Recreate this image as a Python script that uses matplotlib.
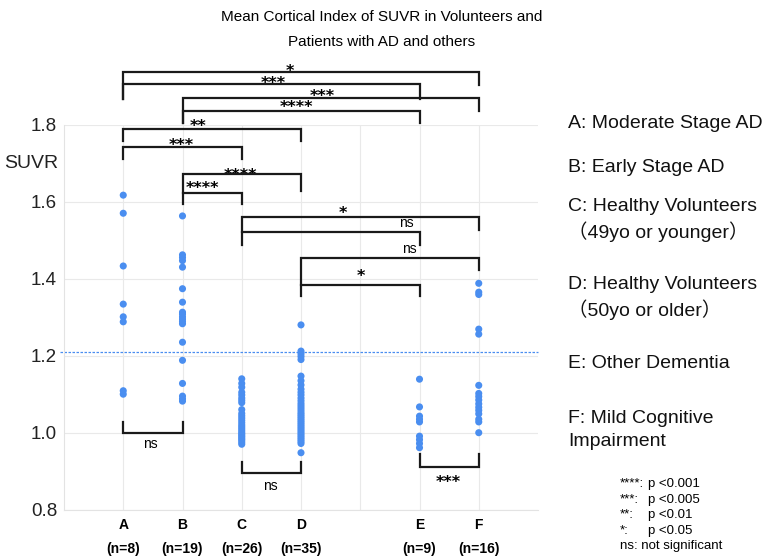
import numpy as np
import matplotlib.pyplot as plt

plt.rcParams['font.family'] = ['Liberation Sans', 'Noto Sans CJK JP', 'DejaVu Sans']

# groups (blank slot between D and E)
categories = ['A', 'B', 'C', 'D', '', 'E', 'F']

suvr_a = [1.617, 1.570, 1.433, 1.334, 1.301, 1.288, 1.109, 1.100]
suvr_b = [1.563, 1.462, 1.455, 1.447, 1.430, 1.374, 1.339, 1.313, 1.308, 1.301,
          1.295, 1.289, 1.283, 1.235, 1.188, 1.128, 1.095, 1.088, 1.082]
suvr_c = [1.140, 1.128, 1.118, 1.105, 1.098, 1.090, 1.084, 1.078, 1.060, 1.050,
          1.044, 1.038, 1.032, 1.026, 1.020, 1.015, 1.010, 1.005, 1.000, 0.996,
          0.992, 0.988, 0.984, 0.980, 0.975, 0.970]
suvr_d = [1.280, 1.212, 1.205, 1.198, 1.190, 1.147, 1.135, 1.124, 1.113, 1.105,
          1.098, 1.090, 1.083, 1.076, 1.070, 1.064, 1.058, 1.052, 1.047, 1.042,
          1.037, 1.032, 1.027, 1.022, 1.017, 1.012, 1.007, 1.002, 0.997, 0.992,
          0.987, 0.982, 0.977, 0.972, 0.948]
suvr_e = [1.139, 1.067, 1.043, 1.035, 1.028, 0.991, 0.982, 0.972, 0.961]
suvr_f = [1.388, 1.365, 1.359, 1.269, 1.256, 1.123, 1.102, 1.094, 1.085, 1.075,
          1.066, 1.058, 1.049, 1.035, 1.028, 1.000]

cutoff = 1.21

group_names = ['A: Moderate Stage AD', 'B: Early Stage AD',
               'C: Healthy Volunteers\n（49yo or younger）',
               'D: Healthy Volunteers\n（50yo or older）',
               'E: Other Dementia', 'F: Mild Cognitive\nImpairment']

sig_keys = ['****:', '***:', '**:', '*:', 'ns: not significant']
sig_vals = ['p <0.001', 'p <0.005', 'p <0.01', 'p <0.05', '']

# comparisons: left, right, bar y, left leg end, right leg end, label, label x, label y
brackets = [
    ('A', 'F', 1.936, 1.866, 1.903, '*', 3.82, 1.951),
    ('A', 'E', 1.905, 1.866, 1.866, '***', 3.54, 1.920),
    ('B', 'F', 1.870, 1.805, 1.836, '***', 4.36, 1.886),
    ('B', 'E', 1.836, 1.805, 1.805, '****', 3.92, 1.856),
    ('A', 'D', 1.790, 1.758, 1.758, '**', 2.27, 1.808),
    ('A', 'C', 1.741, 1.710, 1.710, '***', 1.98, 1.758),
    ('B', 'D', 1.672, 1.623, 1.629, '****', 2.98, 1.681),
    ('B', 'C', 1.623, 1.594, 1.594, '****', 2.34, 1.646),
    ('C', 'F', 1.560, 1.521, 1.526, '*', 4.70, 1.581),
    ('C', 'E', 1.521, 1.488, 1.488, 'ns', 5.77, 1.544),
    ('D', 'F', 1.454, 1.384, 1.423, 'ns', 5.83, 1.477),
    ('D', 'E', 1.384, 1.355, 1.355, '*', 5.01, 1.417),
    ('A', 'B', 0.999, 1.028, 1.028, 'ns', 1.46, 0.970),
    ('C', 'D', 0.895, 0.924, 0.924, 'ns', 3.48, 0.861),
    ('E', 'F', 0.911, 0.945, 0.945, '***', 6.49, 0.882),
]

values = dict(A=suvr_a, B=suvr_b, C=suvr_c, D=suvr_d, E=suvr_e, F=suvr_f)
dot = '#4a8ef0'

W, H = 767, 558
fig = plt.figure(figsize=(W / 100, H / 100), dpi=100)
ax = fig.add_axes([64 / W, 48.3 / H, 474 / W, 385 / H])

for i, cat in enumerate(categories):
    if cat:
        v = values[cat]
        ax.scatter(np.full(len(v), i + 1), v, s=26, color=dot, edgecolors='none',
                   zorder=3, clip_on=False)

ax.plot([-0.07, 8], [cutoff, cutoff], color=dot, lw=0.9, ls=(0, (2, 1.2)),
        clip_on=False, zorder=2)

ax.set_xlim(0, 8)
ax.set_ylim(0.8, 1.8)
ax.set_yticks(np.arange(0.8, 1.81, 0.2))
ax.set_yticklabels(['%.1f' % t for t in np.arange(0.8, 1.81, 0.2)],
                   fontsize=13.5, color='#222222')
ax.set_xticks(range(1, len(categories) + 1))
ax.set_xticklabels([c + '\n(n=%d)' % len(values[c]) if c else '' for c in categories],
                   fontsize=10, fontweight='bold', linespacing=1.9)
ax.tick_params(length=0, pad=6)
ax.tick_params(axis='y', pad=5)
ax.grid(color='#e9e9e9', lw=0.8)
ax.set_axisbelow(True)
for s in ['top', 'right']:
    ax.spines[s].set_visible(False)
for s in ['left', 'bottom']:
    ax.spines[s].set_color('#e3e3e3')
    ax.spines[s].set_linewidth(0.8)

fig.text(31 / W, 1 - 163 / H, 'SUVR', ha='center', va='center', fontsize=14,
         color='#222222')

for g1, g2, top, le, re, lab, lx, ly in brackets:
    x1 = categories.index(g1) + 1
    x2 = categories.index(g2) + 1
    ax.plot([x1, x1, x2, x2], [le, top, top, re], color='#1a1a1a', lw=1.6,
            clip_on=False, solid_joinstyle='miter', zorder=4)
    if lab == 'ns':
        ax.annotate(lab, (lx, ly), xytext=(0, -2.7), textcoords='offset points',
                    ha='center', va='baseline', fontsize=10, annotation_clip=False)
    else:
        ax.annotate(lab, (lx, ly), xytext=(0, -6.6), textcoords='offset points',
                    ha='center', va='baseline', fontsize=11.5, fontweight='bold',
                    family='DejaVu Sans', annotation_clip=False)

fig.text(382 / W, 1 - 29.5 / H,
         'Mean Cortical Index of SUVR in Volunteers and\nPatients with AD and others',
         ha='center', va='center', fontsize=11, linespacing=1.95)

legend_y = [124, 167, 220, 298, 364, 430]
for name, y in zip(group_names, legend_y):
    fig.text(568 / W, 1 - y / H, name, ha='left', va='center', fontsize=14,
             linespacing=1.4, color='#111111')

sig_y = [484, 500, 515, 531, 546]
for k, v, y in zip(sig_keys, sig_vals, sig_y):
    fig.text(620 / W, 1 - y / H, k, ha='left', va='center', fontsize=9.5)
    fig.text(648 / W, 1 - y / H, v, ha='left', va='center', fontsize=9.5)

fig.savefig('out.png', dpi=100)
